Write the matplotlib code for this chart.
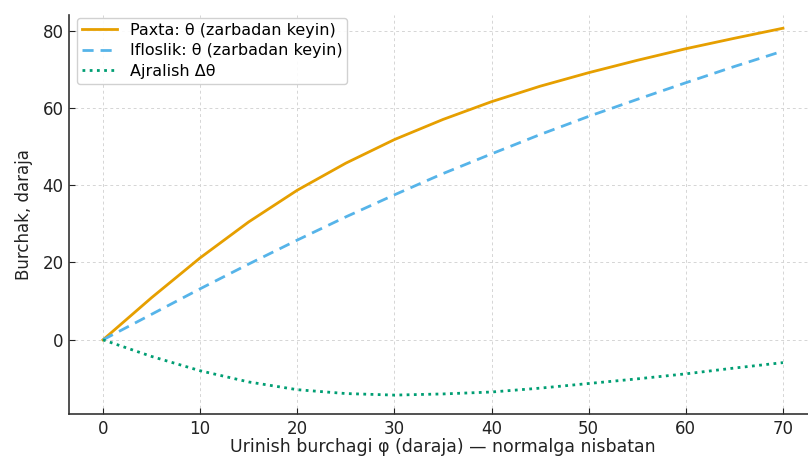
import matplotlib
matplotlib.use("Agg")
import matplotlib.pyplot as plt

# Urinish burchagi (daraja)
phi = [0, 5, 10, 15, 20, 25, 30, 35, 40, 45, 50, 55, 60, 65, 70]
# Paxta va ifloslik uchun zarbadan keyingi burchak
theta_paxta = [0, 10.9, 21.2, 30.5, 38.7, 45.7, 51.8, 57.0, 61.6, 65.6, 69.1, 72.3, 75.3, 78.0, 80.6]
theta_ifloslik = [0, 6.6, 13.2, 19.6, 25.8, 31.8, 37.5, 43.0, 48.1, 53.1, 57.8, 62.2, 66.5, 70.7, 74.7]
delta_theta = [0, -4.3, -8.0, -10.9, -12.9, -13.9, -14.3, -14.0, -13.5, -12.5, -11.3, -10.1, -8.8, -7.3, -5.9]

fig = plt.figure(figsize=(8.08, 4.57), dpi=100)
ax = fig.add_axes([0.0854, 0.094, 0.9257, 0.873])

ax.plot(phi, theta_paxta, color="#E69F00", lw=2, label="Paxta: θ (zarbadan keyin)")
ax.plot(phi, theta_ifloslik, color="#56B4E9", lw=2, ls=(0, (4, 2.5)), label="Ifloslik: θ (zarbadan keyin)")
ax.plot(phi, delta_theta, color="#009E73", lw=2, ls=(0, (1, 1.6)), label="Ajralish Δθ")

ax.set_xlim(-3.5, 73.5)
ax.set_ylim(-19.2, 84.0)
ax.set_xticks([0, 10, 20, 30, 40, 50, 60, 70])
ax.set_yticks([0, 20, 40, 60, 80])
ax.grid(True, ls=(0, (3, 3)), color="#d5d5d5", lw=0.7)
ax.set_axisbelow(True)
ax.tick_params(labelsize=12, colors="#222222", direction="in", length=4, pad=4)
for s in ["top", "right"]:
    ax.spines[s].set_visible(False)
for s in ["left", "bottom"]:
    ax.spines[s].set_color("#333333")
    ax.spines[s].set_linewidth(1.2)

ax.set_xlabel("Urinish burchagi φ (daraja) — normalga nisbatan", fontsize=12.5, color="#222222", labelpad=0)
ax.set_ylabel("Burchak, daraja", fontsize=12, color="#222222", labelpad=7)
ax.legend(loc="upper left", bbox_to_anchor=(0.0107, 0.9925), borderaxespad=0,
          fontsize=11.5, framealpha=0.9, edgecolor="#cccccc",
          borderpad=0.3, handlelength=2.2, labelspacing=0.35)

fig.savefig("out.png", dpi=100)
